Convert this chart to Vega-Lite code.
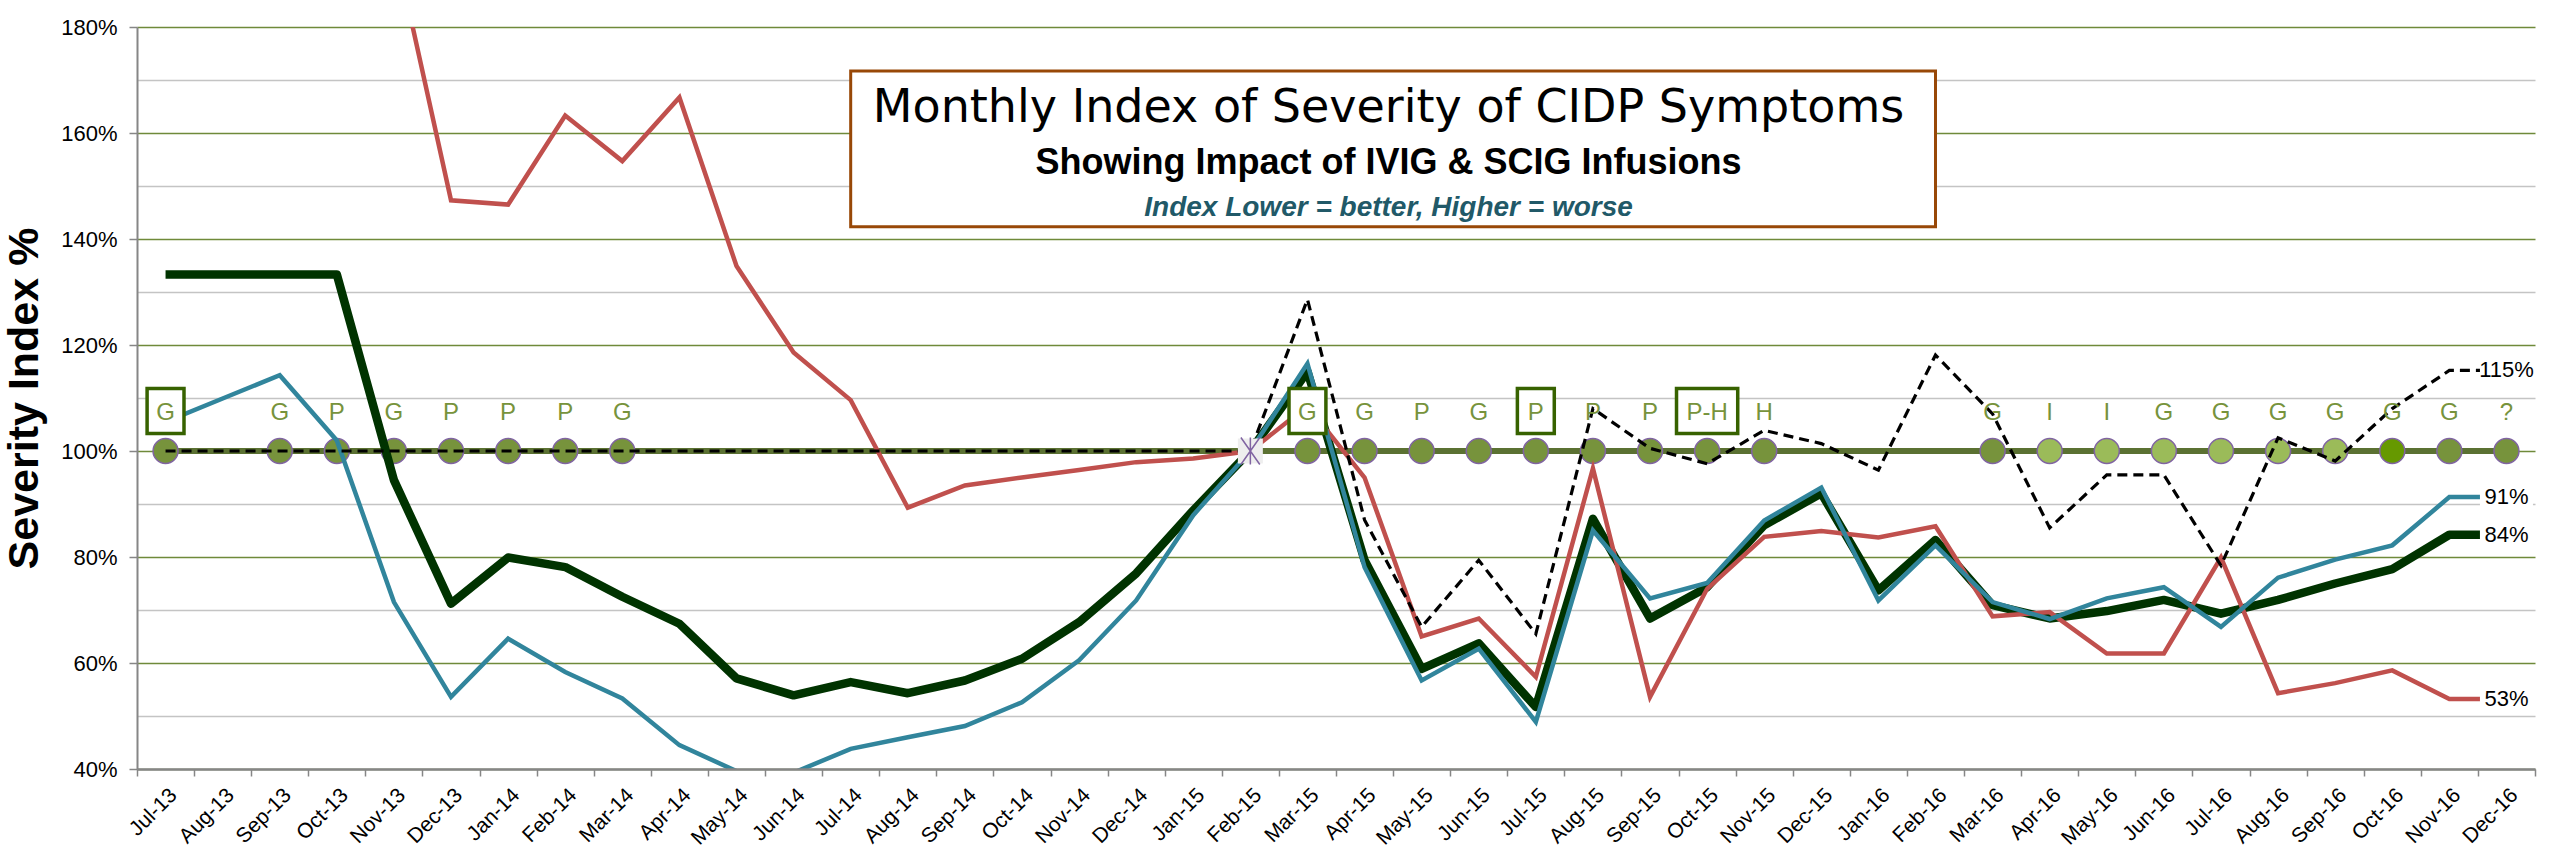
{
  "$schema": "https://vega.github.io/schema/vega-lite/v6.json",
  "width": 2398,
  "height": 742,
  "autosize": {"type": "none"},
  "padding": {"left": 137, "top": 27, "right": 19, "bottom": 97},
  "background": "white",
  "config": {"view": {"stroke": null}, "font": "Liberation Sans"},
  "datasets": {
    "series": [
      {"month": "Jul-13", "overall": 1.333, "idx_1": 1.055, "idx_2": null, "idx_3": 1.0, "base": 1},
      {"month": "Aug-13", "overall": 1.333, "idx_1": 1.099, "idx_2": null, "idx_3": 1.0, "base": 1},
      {"month": "Sep-13", "overall": 1.333, "idx_1": 1.143, "idx_2": null, "idx_3": 1.0, "base": 1},
      {"month": "Oct-13", "overall": 1.333, "idx_1": 1.02, "idx_2": null, "idx_3": 1.0, "base": 1},
      {"month": "Nov-13", "overall": 0.945, "idx_1": 0.715, "idx_2": 1.96, "idx_3": 1.0, "base": 1},
      {"month": "Dec-13", "overall": 0.712, "idx_1": 0.536, "idx_2": 1.473, "idx_3": 1.0, "base": 1},
      {"month": "Jan-14", "overall": 0.799, "idx_1": 0.646, "idx_2": 1.465, "idx_3": 1.0, "base": 1},
      {"month": "Feb-14", "overall": 0.781, "idx_1": 0.583, "idx_2": 1.633, "idx_3": 1.0, "base": 1},
      {"month": "Mar-14", "overall": 0.725, "idx_1": 0.533, "idx_2": 1.547, "idx_3": 1.0, "base": 1},
      {"month": "Apr-14", "overall": 0.674, "idx_1": 0.445, "idx_2": 1.667, "idx_3": 1.0, "base": 1},
      {"month": "May-14", "overall": 0.571, "idx_1": 0.396, "idx_2": 1.349, "idx_3": 1.0, "base": 1},
      {"month": "Jun-14", "overall": 0.539, "idx_1": 0.393, "idx_2": 1.186, "idx_3": 1.0, "base": 1},
      {"month": "Jul-14", "overall": 0.564, "idx_1": 0.438, "idx_2": 1.096, "idx_3": 1.0, "base": 1},
      {"month": "Aug-14", "overall": 0.543, "idx_1": 0.46, "idx_2": 0.893, "idx_3": 1.0, "base": 1},
      {"month": "Sep-14", "overall": 0.567, "idx_1": 0.481, "idx_2": 0.935, "idx_3": 1.0, "base": 1},
      {"month": "Oct-14", "overall": 0.608, "idx_1": 0.526, "idx_2": 0.95, "idx_3": 1.0, "base": 1},
      {"month": "Nov-14", "overall": 0.677, "idx_1": 0.605, "idx_2": 0.964, "idx_3": 1.0, "base": 1},
      {"month": "Dec-14", "overall": 0.769, "idx_1": 0.718, "idx_2": 0.979, "idx_3": 1.0, "base": 1},
      {"month": "Jan-15", "overall": 0.888, "idx_1": 0.879, "idx_2": 0.986, "idx_3": 1.0, "base": 1},
      {"month": "Feb-15", "overall": 1.0, "idx_1": 1.0, "idx_2": 1.0, "idx_3": 1.0, "base": 1},
      {"month": "Mar-15", "overall": 1.15, "idx_1": 1.165, "idx_2": 1.085, "idx_3": 1.286, "base": 1},
      {"month": "Apr-15", "overall": 0.794, "idx_1": 0.781, "idx_2": 0.95, "idx_3": 0.87, "base": 1},
      {"month": "May-15", "overall": 0.589, "idx_1": 0.567, "idx_2": 0.65, "idx_3": 0.668, "base": 1},
      {"month": "Jun-15", "overall": 0.637, "idx_1": 0.627, "idx_2": 0.684, "idx_3": 0.794, "base": 1},
      {"month": "Jul-15", "overall": 0.517, "idx_1": 0.489, "idx_2": 0.574, "idx_3": 0.655, "base": 1},
      {"month": "Aug-15", "overall": 0.872, "idx_1": 0.85, "idx_2": 0.967, "idx_3": 1.08, "base": 1},
      {"month": "Sep-15", "overall": 0.684, "idx_1": 0.722, "idx_2": 0.536, "idx_3": 1.005, "base": 1},
      {"month": "Oct-15", "overall": 0.743, "idx_1": 0.751, "idx_2": 0.74, "idx_3": 0.976, "base": 1},
      {"month": "Nov-15", "overall": 0.86, "idx_1": 0.869, "idx_2": 0.838, "idx_3": 1.039, "base": 1},
      {"month": "Dec-15", "overall": 0.92, "idx_1": 0.931, "idx_2": 0.849, "idx_3": 1.014, "base": 1},
      {"month": "Jan-16", "overall": 0.737, "idx_1": 0.718, "idx_2": 0.837, "idx_3": 0.964, "base": 1},
      {"month": "Feb-16", "overall": 0.832, "idx_1": 0.822, "idx_2": 0.858, "idx_3": 1.181, "base": 1},
      {"month": "Mar-16", "overall": 0.709, "idx_1": 0.715, "idx_2": 0.688, "idx_3": 1.07, "base": 1},
      {"month": "Apr-16", "overall": 0.684, "idx_1": 0.683, "idx_2": 0.696, "idx_3": 0.855, "base": 1},
      {"month": "May-16", "overall": 0.698, "idx_1": 0.722, "idx_2": 0.618, "idx_3": 0.955, "base": 1},
      {"month": "Jun-16", "overall": 0.719, "idx_1": 0.743, "idx_2": 0.618, "idx_3": 0.955, "base": 1},
      {"month": "Jul-16", "overall": 0.693, "idx_1": 0.668, "idx_2": 0.799, "idx_3": 0.784, "base": 1},
      {"month": "Aug-16", "overall": 0.719, "idx_1": 0.761, "idx_2": 0.543, "idx_3": 1.025, "base": 1},
      {"month": "Sep-16", "overall": 0.75, "idx_1": 0.795, "idx_2": 0.562, "idx_3": 0.981, "base": 1},
      {"month": "Oct-16", "overall": 0.777, "idx_1": 0.822, "idx_2": 0.586, "idx_3": 1.08, "base": 1},
      {"month": "Nov-16", "overall": 0.842, "idx_1": 0.913, "idx_2": 0.532, "idx_3": 1.152, "base": 1},
      {"month": "Dec-16", "overall": 0.842, "idx_1": 0.913, "idx_2": 0.532, "idx_3": 1.152, "base": 1}
    ],
    "infusions": [
      {"month": "Jul-13", "label": "G", "boxed": true, "period": "A", "value": 1},
      {"month": "Sep-13", "label": "G", "boxed": false, "period": "A", "value": 1},
      {"month": "Oct-13", "label": "P", "boxed": false, "period": "A", "value": 1},
      {"month": "Nov-13", "label": "G", "boxed": false, "period": "A", "value": 1},
      {"month": "Dec-13", "label": "P", "boxed": false, "period": "A", "value": 1},
      {"month": "Jan-14", "label": "P", "boxed": false, "period": "A", "value": 1},
      {"month": "Feb-14", "label": "P", "boxed": false, "period": "A", "value": 1},
      {"month": "Mar-14", "label": "G", "boxed": false, "period": "A", "value": 1},
      {"month": "Mar-15", "label": "G", "boxed": true, "period": "A", "value": 1},
      {"month": "Apr-15", "label": "G", "boxed": false, "period": "A", "value": 1},
      {"month": "May-15", "label": "P", "boxed": false, "period": "A", "value": 1},
      {"month": "Jun-15", "label": "G", "boxed": false, "period": "A", "value": 1},
      {"month": "Jul-15", "label": "P", "boxed": true, "period": "A", "value": 1},
      {"month": "Aug-15", "label": "P", "boxed": false, "period": "A", "value": 1},
      {"month": "Sep-15", "label": "P", "boxed": false, "period": "A", "value": 1},
      {"month": "Oct-15", "label": "P-H", "boxed": true, "period": "A", "value": 1},
      {"month": "Nov-15", "label": "H", "boxed": false, "period": "A", "value": 1},
      {"month": "Mar-16", "label": "G", "boxed": false, "period": "A", "value": 1},
      {"month": "Apr-16", "label": "I", "boxed": false, "period": "B", "value": 1},
      {"month": "May-16", "label": "I", "boxed": false, "period": "B", "value": 1},
      {"month": "Jun-16", "label": "G", "boxed": false, "period": "B", "value": 1},
      {"month": "Jul-16", "label": "G", "boxed": false, "period": "B", "value": 1},
      {"month": "Aug-16", "label": "G", "boxed": false, "period": "B", "value": 1},
      {"month": "Sep-16", "label": "G", "boxed": false, "period": "B", "value": 1},
      {"month": "Oct-16", "label": "G", "boxed": false, "period": "C", "value": 1},
      {"month": "Nov-16", "label": "G", "boxed": false, "period": "A", "value": 1},
      {"month": "Dec-16", "label": "?", "boxed": false, "period": "A", "value": 1}
    ],
    "reset": [{"month": "Feb-15", "value": 1}],
    "heading": [{"month": "Apr-15", "value": 1}]
  },
  "encoding": {
    "x": {
      "field": "month",
      "type": "ordinal",
      "title": null,
      "scale": {
        "type": "band",
        "paddingInner": 0,
        "paddingOuter": 0,
        "domain": ["Jul-13","Aug-13","Sep-13","Oct-13","Nov-13","Dec-13","Jan-14","Feb-14","Mar-14","Apr-14","May-14","Jun-14","Jul-14","Aug-14","Sep-14","Oct-14","Nov-14","Dec-14","Jan-15","Feb-15","Mar-15","Apr-15","May-15","Jun-15","Jul-15","Aug-15","Sep-15","Oct-15","Nov-15","Dec-15","Jan-16","Feb-16","Mar-16","Apr-16","May-16","Jun-16","Jul-16","Aug-16","Sep-16","Oct-16","Nov-16","Dec-16"]
      },
      "axis": {
        "labelAngle": -45,
        "tickBand": "extent",
        "tickSize": 7,
        "tickWidth": 1.5,
        "tickColor": "#868686",
        "domainColor": "#868686",
        "domainWidth": 2.5,
        "grid": false,
        "labelFont": "Liberation Sans",
        "labelFontSize": 21,
        "labelColor": "#000000",
        "labelPadding": 8
      }
    },
    "y": {
      "field": "value",
      "type": "quantitative",
      "title": "Severity Index %",
      "scale": {"domain": [0.4, 1.8], "nice": false, "zero": false},
      "axis": {
        "values": [0.4, 0.5, 0.6, 0.7, 0.8, 0.9, 1.0, 1.1, 1.2, 1.3, 1.4, 1.5, 1.6, 1.7, 1.8],
        "format": ".0%",
        "labelExpr": "round(datum.value * 100) % 20 === 0 ? datum.label : ''",
        "grid": true,
        "gridColor": {"condition": {"test": "round(datum.value * 100) % 20 === 0", "value": "#6F8A3A"}, "value": "#C4C4C4"},
        "gridWidth": 1.6,
        "tickColor": {"condition": {"test": "round(datum.value * 100) % 20 === 0", "value": "#868686"}, "value": "transparent"},
        "tickSize": 8,
        "tickWidth": 1.5,
        "domainColor": "#868686",
        "domainWidth": 2,
        "labelFont": "Liberation Sans",
        "labelFontSize": 22,
        "labelColor": "#000000",
        "labelPadding": 12,
        "titleFont": "Liberation Sans",
        "titleFontSize": 43,
        "titleFontWeight": "bold",
        "titleColor": "#000000",
        "titlePadding": 14
      }
    }
  },
  "layer": [
    {
      "data": {"name": "heading"},
      "mark": {"type": "rect", "fill": "white", "stroke": "#984807", "strokeWidth": 3},
      "encoding": {
        "x": {"datum": "Jul-14", "type": "ordinal"},
        "x2": {"datum": "Feb-16"},
        "y": {"datum": 1.717, "type": "quantitative"},
        "y2": {"datum": 1.423}
      }
    },
    {
      "data": {"name": "heading"},
      "mark": {"type": "text", "text": "Monthly Index of Severity of CIDP Symptoms", "font": "DejaVu Sans", "fontSize": 46, "color": "#000000", "dx": 24},
      "encoding": {"y": {"datum": 1.648, "type": "quantitative"}}
    },
    {
      "data": {"name": "heading"},
      "mark": {"type": "text", "text": "Showing Impact of IVIG & SCIG Infusions", "font": "Liberation Sans", "fontWeight": "bold", "fontSize": 36, "color": "#000000", "dx": 24},
      "encoding": {"y": {"datum": 1.543, "type": "quantitative"}}
    },
    {
      "data": {"name": "heading"},
      "mark": {"type": "text", "text": "Index Lower = better, Higher = worse", "font": "Liberation Sans", "fontWeight": "bold", "fontStyle": "italic", "fontSize": 28, "color": "#215968", "dx": 24},
      "encoding": {"y": {"datum": 1.458, "type": "quantitative"}}
    },
    {
      "data": {"name": "series"},
      "transform": [{"fold": ["base"], "as": ["series", "value"]}],
      "mark": {"type": "line", "color": "#5B7132", "strokeWidth": 6, "clip": true}
    },
    {
      "data": {"name": "infusions"},
      "mark": {"type": "point", "shape": "circle", "filled": true, "size": 625, "stroke": "#8064A2", "strokeWidth": 1.5, "opacity": 1},
      "encoding": {
        "fill": {"field": "period", "type": "nominal", "legend": null, "scale": {"domain": ["A", "B", "C"], "range": ["#77933C", "#9BBB59", "#669900"]}}
      }
    },
    {
      "data": {"name": "series"},
      "transform": [{"fold": ["overall"], "as": ["series", "value"]}],
      "mark": {"type": "line", "color": "#003300", "strokeWidth": 8.5, "strokeJoin": "round", "clip": true}
    },
    {
      "data": {"name": "series"},
      "transform": [{"fold": ["idx_2"], "as": ["series", "value"]}],
      "mark": {"type": "line", "color": "#C0504D", "strokeWidth": 4.5, "clip": true}
    },
    {
      "data": {"name": "series"},
      "transform": [{"fold": ["idx_1"], "as": ["series", "value"]}],
      "mark": {"type": "line", "color": "#31859C", "strokeWidth": 4.5, "clip": true}
    },
    {
      "data": {"name": "series"},
      "transform": [{"fold": ["idx_3"], "as": ["series", "value"]}],
      "mark": {"type": "line", "color": "#000000", "strokeWidth": 3.2, "strokeDash": [10, 6], "clip": true}
    },
    {
      "data": {"name": "reset"},
      "mark": {"type": "point", "shape": "square", "filled": true, "fill": "#EEEEEE", "size": 625, "strokeWidth": 0, "opacity": 1}
    },
    {
      "data": {"name": "reset"},
      "mark": {"type": "point", "shape": "M -0.7 -1 L 0.7 1 M -0.7 1 L 0.7 -1 M 0 -1 L 0 1", "filled": false, "stroke": "#8064A2", "strokeWidth": 1.5, "size": 729, "opacity": 1}
    },
    {
      "data": {"name": "infusions"},
      "transform": [{"filter": "datum.boxed && length(datum.label) === 1"}],
      "mark": {"type": "point", "shape": "M -0.82 -1 L 0.82 -1 L 0.82 1 L -0.82 1 Z", "size": 2025, "filled": true, "fill": "white", "stroke": "#376200", "strokeWidth": 3.5, "opacity": 1, "yOffset": -40}
    },
    {
      "data": {"name": "infusions"},
      "transform": [{"filter": "datum.boxed && length(datum.label) > 1"}],
      "mark": {"type": "point", "shape": "M -1.36 -1 L 1.36 -1 L 1.36 1 L -1.36 1 Z", "size": 2025, "filled": true, "fill": "white", "stroke": "#376200", "strokeWidth": 3.5, "opacity": 1, "yOffset": -40}
    },
    {
      "data": {"name": "infusions"},
      "mark": {"type": "text", "dy": -38, "font": "Liberation Sans", "fontSize": 24, "color": "#77933C"},
      "encoding": {"text": {"field": "label", "type": "nominal"}}
    },
    {
      "data": {"name": "series"},
      "transform": [
        {"fold": ["overall", "idx_1", "idx_2", "idx_3"], "as": ["series", "value"]},
        {"filter": "datum.month === 'Dec-16'"}
      ],
      "mark": {"type": "point", "shape": "M -1 -0.55 L 1 -0.55 L 1 0.55 L -1 0.55 Z", "size": 2809, "filled": true, "fill": "white", "strokeWidth": 0, "opacity": 1}
    },
    {
      "data": {"name": "series"},
      "transform": [
        {"fold": ["overall", "idx_1", "idx_2", "idx_3"], "as": ["series", "value"]},
        {"filter": "datum.month === 'Dec-16'"}
      ],
      "mark": {"type": "text", "font": "Liberation Sans", "fontSize": 22, "color": "#000000"},
      "encoding": {"text": {"field": "value", "type": "quantitative", "format": ".0%"}}
    }
  ]
}
